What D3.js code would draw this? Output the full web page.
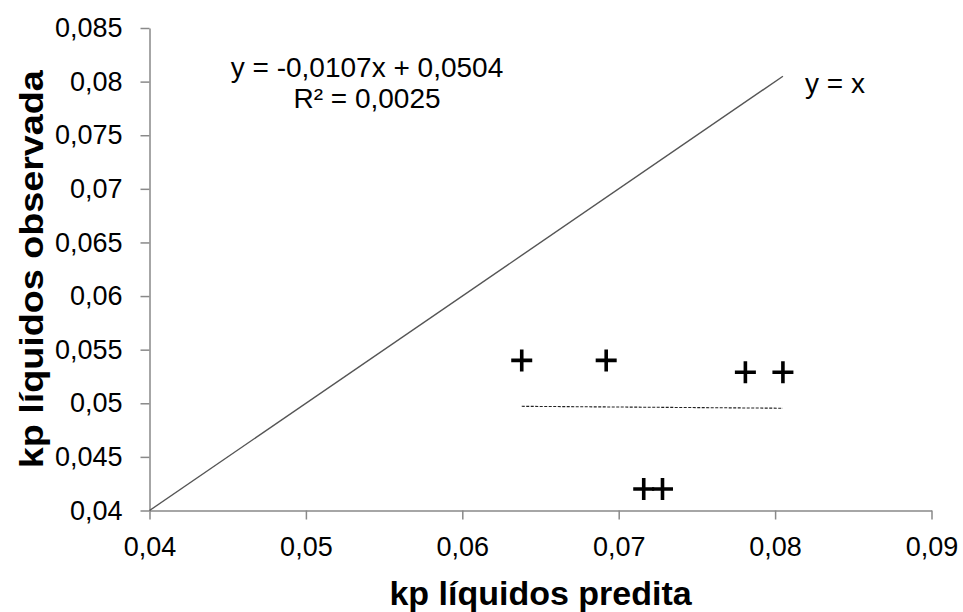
<!DOCTYPE html>
<html>
<head>
<meta charset="utf-8">
<script src="https://cdn.jsdelivr.net/npm/d3@7"></script>
<style>
  html, body { margin: 0; padding: 0; background: #fff; }
  svg { display: block; font-family: "Liberation Sans", Arial, sans-serif; }
</style>
</head>
<body>
<svg id="chart" width="963" height="612"></svg>
<script>
// Data
const predita   = [0.0638, 0.0692, 0.0781, 0.0805, 0.0716, 0.0728];
const observada = [0.0540, 0.0540, 0.0529, 0.0529, 0.0420, 0.0420];
const xTicks = [0.04, 0.05, 0.06, 0.07, 0.08, 0.09];
const yTicks = [0.04, 0.045, 0.05, 0.055, 0.06, 0.065, 0.07, 0.075, 0.08, 0.085];
const trendSlope = -0.0107;
const trendIntercept = 0.0504;
const equationLines = ["y = -0,0107x + 0,0504", "R² = 0,0025"];
const identityLabel = "y = x";
const xTitle = "kp líquidos predita";
const yTitle = "kp líquidos observada";

const svg = d3.select("#chart");
const x = d3.scaleLinear().domain([0.04, 0.09]).range([149.5, 931.5]);
const y = d3.scaleLinear().domain([0.04, 0.085]).range([510.5, 28]);
const fmt = v => String(+v.toFixed(4)).replace(".", ",");
const axisColor = "#898989";

// Axes
const gx = svg.append("g").attr("transform", `translate(0,${y(0.04)})`)
  .call(d3.axisBottom(x).tickValues(xTicks).tickFormat(fmt).tickSize(9).tickSizeOuter(0).tickPadding(17));
const gy = svg.append("g").attr("transform", `translate(${x(0.04)},0)`)
  .call(d3.axisLeft(y).tickValues(yTicks).tickFormat(fmt).tickSize(9).tickSizeOuter(0).tickPadding(18));
[gx, gy].forEach(g => {
  g.select(".domain").attr("stroke", axisColor).attr("stroke-width", 1.5);
  g.selectAll(".tick line").attr("stroke", axisColor).attr("stroke-width", 1.5);
  g.selectAll(".tick text").attr("fill", "#000").style("font-size", "27px")
    .style("font-family", "'Liberation Sans', Arial, sans-serif");
});

// Identity line y = x, from 0.04 to max predicted
const xMax = d3.max(predita), xMin = d3.min(predita);
svg.append("line")
  .attr("x1", x(0.04)).attr("y1", y(0.04))
  .attr("x2", x(xMax)).attr("y2", y(xMax))
  .attr("stroke", "#555").attr("stroke-width", 1.4);

// Trend line (dashed)
svg.append("line")
  .attr("x1", x(xMin)).attr("y1", y(trendSlope * xMin + trendIntercept))
  .attr("x2", x(xMax)).attr("y2", y(trendSlope * xMax + trendIntercept))
  .attr("stroke", "#222").attr("stroke-width", 1.1).attr("stroke-dasharray", "3,1.5");

// Markers (plus signs)
svg.append("g").selectAll("path")
  .data(predita.map((v, i) => [v, observada[i]]))
  .join("path")
  .attr("transform", d => `translate(${x(d[0])},${y(d[1])})`)
  .attr("d", "M-10.5,0H10.5M0,-11V11")
  .attr("stroke", "#000").attr("stroke-width", 3.6).attr("fill", "none");

// Equation text
svg.append("text").attr("x", 367).attr("y", 76.5).attr("text-anchor", "middle")
  .style("font-size", "28px").text(equationLines[0]);
svg.append("text").attr("x", 367).attr("y", 108.3).attr("text-anchor", "middle")
  .style("font-size", "28px").text(equationLines[1]);
svg.append("text").attr("x", 805).attr("y", 92.5)
  .style("font-size", "28px").text(identityLabel);

// Axis titles
svg.append("text").attr("x", (x(0.04) + x(0.09)) / 2).attr("y", 605).attr("text-anchor", "middle")
  .style("font-size", "34px").style("font-weight", "bold").text(xTitle);
svg.append("text").attr("transform", `translate(43,${(y(0.04) + y(0.085)) / 2}) rotate(-90)`)
  .attr("text-anchor", "middle")
  .attr("textLength", 398).attr("lengthAdjust", "spacingAndGlyphs")
  .style("font-size", "34px").style("font-weight", "bold").text(yTitle);
</script>
</body>
</html>
